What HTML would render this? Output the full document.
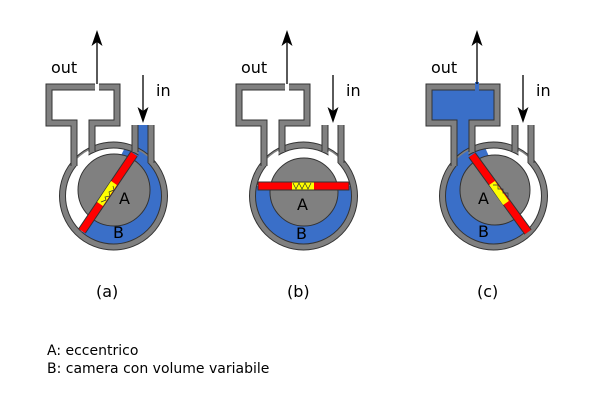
<!DOCTYPE html>
<html><head><style>body{margin:0;background:#fff}svg{display:block}</style></head><body>
<svg width="600" height="400" viewBox="0 0 600 400" xmlns="http://www.w3.org/2000/svg" font-family="DejaVu Sans, Liberation Sans, sans-serif">
<defs>
<clipPath id="ci"><circle cx="113.5" cy="196" r="48"/></clipPath>
<clipPath id="co"><circle cx="113.5" cy="196" r="52"/></clipPath>
<g id="walls">
<path d="M74,166 V123 H49 V87 H95 M99,87 H117 V123 H92 V152" fill="none" stroke="#333" stroke-width="7"/>
<path d="M135,152 V125 M151,163 V125" fill="none" stroke="#333" stroke-width="7"/>
<path d="M74,166 V123 H49 V87 H95 M99,87 H117 V123 H92 V152" fill="none" stroke="#808080" stroke-width="5"/>
<path d="M135,152 V125 M151,163 V125" fill="none" stroke="#808080" stroke-width="5"/>
</g>
<g id="housing">
<circle cx="113.5" cy="196" r="51" fill="none" stroke="#333" stroke-width="7"/>
<circle cx="113.5" cy="196" r="51" fill="none" stroke="#808080" stroke-width="5"/>
</g>
<path id="up" d="M0,0 L5.5,16 L0,12 L-5.5,16 Z" fill="#000"/>
</defs>

<!-- panel a -->
<g>
<rect x="137" y="125" width="12" height="40" fill="#3a6fc8"/>
<circle cx="113.5" cy="196" r="48" fill="#fff"/>
<polygon points="58,280 150,98 220,98 220,280" fill="#3a6fc8" clip-path="url(#ci)"/>
<use href="#housing"/>
<use href="#walls"/>
<rect x="77.5" y="125" width="11" height="40" fill="#fff" clip-path="url(#co)"/>
<rect x="138.5" y="125" width="9" height="40" fill="#3a6fc8" clip-path="url(#co)"/>
<circle cx="114" cy="190" r="36" fill="#808080" stroke="#333" stroke-width="1"/>
<line x1="82" y1="231" x2="134" y2="154" stroke="#333" stroke-width="9"/>
<line x1="82" y1="231" x2="134" y2="154" stroke="#f00" stroke-width="7"/>
<line x1="100" y1="204" x2="114" y2="183" stroke="#ff0" stroke-width="7"/>
<path d="M101,202 l5,-2 l-1,-3 l5,-1 l-1,-4 l5,-2 l-1,-4" fill="none" stroke="#333" stroke-width="0.7"/>
<text x="119" y="204" font-size="16">A</text>
<text x="113" y="238" font-size="16">B</text>
</g>

<!-- panel b -->
<g transform="translate(190,0)">
<circle cx="113.5" cy="196" r="48" fill="#fff"/>
<rect x="60" y="186" width="110" height="70" fill="#3a6fc8" clip-path="url(#ci)"/>
<use href="#housing"/>
<use href="#walls"/>
<rect x="77.5" y="125" width="11" height="40" fill="#fff" clip-path="url(#co)"/>
<rect x="138.5" y="125" width="9" height="40" fill="#fff" clip-path="url(#co)"/>
<circle cx="114" cy="192" r="34" fill="#808080" stroke="#333" stroke-width="1"/>
<rect x="68" y="182" width="91" height="8" fill="#f00" stroke="#333" stroke-width="1"/>
<rect x="102" y="182.5" width="22" height="7" fill="#ff0"/>
<path d="M103,183 l3,6 l3,-6 l3,6 l3,-6 l3,6 l3,-6" fill="none" stroke="#333" stroke-width="0.7"/>
<text x="107" y="210" font-size="16">A</text>
<text x="106" y="239" font-size="16">B</text>
</g>

<!-- panel c -->
<g transform="translate(380,0)">
<rect x="49" y="87" width="68" height="36" fill="#3a6fc8"/>
<rect x="95" y="82" width="4" height="8" fill="#3a6fc8"/>
<rect x="74" y="120" width="18" height="45" fill="#3a6fc8"/>
<circle cx="113.5" cy="196" r="48" fill="#fff"/>
<polygon points="0,100 84,100 155,260 0,260" fill="#3a6fc8" clip-path="url(#ci)"/>
<use href="#housing"/>
<use href="#walls"/>
<rect x="77.5" y="120" width="11" height="45" fill="#3a6fc8" clip-path="url(#co)"/>
<rect x="77.5" y="120" width="11" height="10" fill="#3a6fc8"/>
<rect x="138.5" y="125" width="9" height="40" fill="#fff" clip-path="url(#co)"/>
<circle cx="115" cy="190" r="35" fill="#808080" stroke="#333" stroke-width="1"/>
<line x1="92" y1="155" x2="148" y2="232" stroke="#333" stroke-width="9"/>
<line x1="92" y1="155" x2="148" y2="232" stroke="#f00" stroke-width="7"/>
<line x1="112" y1="183" x2="126" y2="203" stroke="#ff0" stroke-width="7"/>
<path d="M113,185 l5,0 l0,4 l5,0 l0,4 l5,0 l0,4" fill="none" stroke="#333" stroke-width="0.7"/>
<text x="98" y="204" font-size="16">A</text>
<text x="98" y="237" font-size="16">B</text>
</g>

<!-- arrows -->
<g stroke="#000" stroke-width="1.3">
<line x1="97" y1="84" x2="97" y2="40"/>
<line x1="143" y1="75" x2="143" y2="112"/>
<line x1="287" y1="84" x2="287" y2="40"/>
<line x1="333" y1="75" x2="333" y2="112"/>
<line x1="477" y1="84" x2="477" y2="40"/>
<line x1="523" y1="75" x2="523" y2="112"/>
</g>
<use href="#up" transform="translate(97,30)"/>
<use href="#up" transform="translate(287,30)"/>
<use href="#up" transform="translate(477,30)"/>
<use href="#up" transform="translate(143,123) scale(1,-1)"/>
<use href="#up" transform="translate(333,123) scale(1,-1)"/>
<use href="#up" transform="translate(523,123) scale(1,-1)"/>

<g font-size="16" fill="#000">
<text x="51" y="73">out</text><text x="156" y="96">in</text>
<text x="241" y="73">out</text><text x="346" y="96">in</text>
<text x="431" y="73">out</text><text x="536" y="96">in</text>
<text x="96" y="297">(a)</text>
<text x="287" y="297">(b)</text>
<text x="477" y="297">(c)</text>
</g>
<g font-size="14" fill="#000">
<text x="47" y="355">A: eccentrico</text>
<text x="47" y="373">B: camera con volume variabile</text>
</g>
</svg>
</body></html>
